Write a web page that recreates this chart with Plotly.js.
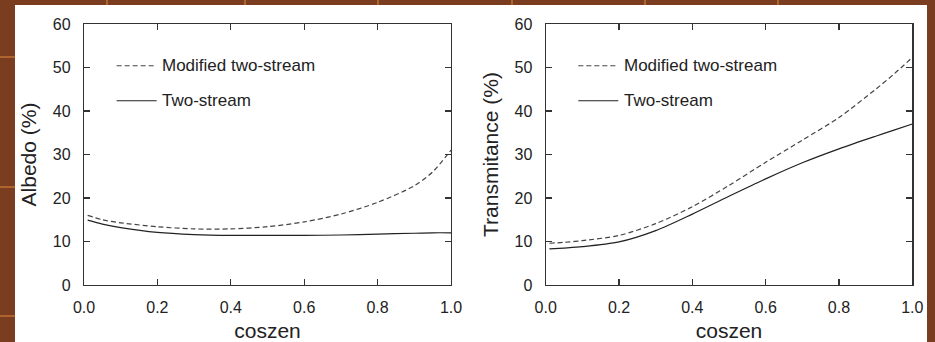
<!DOCTYPE html>
<html>
<head>
<meta charset="utf-8">
<script src="https://cdn.plot.ly/plotly-3.0.1.min.js"></script>
<style>html,body{margin:0;padding:0;background:#7a3d1f;}#chart{width:935px;height:342px;}</style>
</head>
<body>
<div id="chart"></div>
<script>
// coszen samples
const coszen = [0.01, 0.05, 0.1, 0.2, 0.3, 0.4, 0.5, 0.6, 0.7, 0.8, 0.9, 0.95, 1.0];
// Albedo (%)
const albedoModified = [16.0, 15.0, 14.3, 13.4, 12.9, 12.9, 13.4, 14.5, 16.3, 19.0, 22.8, 26.0, 31.0];
const albedoTwoStream = [14.9, 14.0, 13.2, 12.1, 11.6, 11.4, 11.4, 11.4, 11.5, 11.7, 11.9, 12.0, 12.0];
// Transmitance (%)
const transModified = [9.6, 9.8, 10.2, 11.4, 14.1, 18.0, 22.9, 28.2, 33.3, 38.5, 45.0, 48.5, 52.3];
const transTwoStream = [8.3, 8.5, 8.8, 9.9, 12.5, 16.3, 20.4, 24.4, 28.1, 31.3, 34.2, 35.6, 37.0];
const seriesNames = ["Modified two-stream", "Two-stream"];
const yTitles = ["Albedo (%)", "Transmitance (%)"];
const xTitle = "coszen";

const FONT = "Liberation Sans, Arial, Helvetica, sans-serif";
const dashed = {color: "#444", width: 1.2, dash: "5px,3px", shape: "spline", smoothing: 0.8};
const solid = {color: "#222", width: 1.2, shape: "spline", smoothing: 0.8};

const traces = [
  {x: coszen, y: albedoModified, xaxis: "x", yaxis: "y", mode: "lines", line: dashed, name: seriesNames[0]},
  {x: coszen, y: albedoTwoStream, xaxis: "x", yaxis: "y", mode: "lines", line: solid, name: seriesNames[1]},
  {x: coszen, y: transModified, xaxis: "x2", yaxis: "y2", mode: "lines", line: dashed, name: seriesNames[0]},
  {x: coszen, y: transTwoStream, xaxis: "x2", yaxis: "y2", mode: "lines", line: solid, name: seriesNames[1]}
];

function xax(domain, anchor) {
  return {domain: domain, anchor: anchor, range: [0, 1], dtick: 0.2, tick0: 0, tickformat: ".1f",
    ticks: "inside", ticklen: 6, tickcolor: "#333", tickwidth: 1.2,
    showline: true, linecolor: "#333", linewidth: 1.2, mirror: "allticks",
    showgrid: false, zeroline: false, ticklabelstandoff: 8,
    tickfont: {family: FONT, size: 16, color: "#222"},
    title: {text: xTitle, font: {family: FONT, size: 21, color: "#222"}, standoff: 10}};
}
function yax(domain, anchor, title) {
  return {domain: domain, anchor: anchor, range: [0, 60], dtick: 10,
    ticks: "inside", ticklen: 6, tickcolor: "#333", tickwidth: 1.2,
    showline: true, linecolor: "#333", linewidth: 1.2, mirror: "allticks",
    showgrid: false, zeroline: false, ticklabelstandoff: 9,
    tickfont: {family: FONT, size: 16, color: "#222"},
    title: {text: title, font: {family: FONT, size: 21, color: "#222"}, standoff: 10}};
}

const yDom = [57/342, 318/342];
const shapes = [
  {type: "rect", xref: "paper", yref: "paper", x0: 15/935, x1: 927/935, y0: -0.01, y1: 337/342,
   fillcolor: "#ffffff", line: {width: 0}, layer: "below"}
];
// brick mortar lines on the border
[57, 187, 316].forEach(function(yy){
  shapes.push({type: "line", xref: "paper", yref: "paper", x0: 0, x1: 15/935, y0: 1 - yy/342, y1: 1 - yy/342,
    line: {color: "#b0622f", width: 2}, layer: "below"});
});
[107, 245, 378, 512, 645, 778].forEach(function(xx){
  shapes.push({type: "line", xref: "paper", yref: "paper", x0: xx/935, x1: xx/935, y0: 337/342, y1: 1,
    line: {color: "#b0622f", width: 2}, layer: "below"});
});
const annotations = [];
[["x", "y"], ["x2", "y2"]].forEach(function(ax){
  const xr = ax[0] + " domain", yr = ax[1] + " domain";
  const rows = [0.84, 0.706];
  shapes.push({type: "line", xref: xr, yref: yr, x0: 0.089, x1: 0.198, y0: rows[0], y1: rows[0], line: {color: "#444", width: 1.2, dash: "5px,3px"}});
  shapes.push({type: "line", xref: xr, yref: yr, x0: 0.089, x1: 0.198, y0: rows[1], y1: rows[1], line: {color: "#222", width: 1.2}});
  seriesNames.forEach(function(n, i){
    annotations.push({xref: xr, yref: yr, x: 0.208, y: rows[i], xanchor: "left", yanchor: "middle", showarrow: false,
      text: n, font: {family: FONT, size: 17, color: "#222"}});
  });
});

const layout = {
  width: 935, height: 342,
  margin: {l: 0, r: 0, t: 0, b: 0},
  paper_bgcolor: "#7a3d1f", plot_bgcolor: "#ffffff",
  showlegend: false,
  xaxis: xax([84/935, 451/935], "y"),
  yaxis: yax(yDom, "x", yTitles[0]),
  xaxis2: xax([545.7/935, 912.3/935], "y2"),
  yaxis2: yax(yDom, "x2", yTitles[1]),
  shapes: shapes,
  annotations: annotations
};

Plotly.newPlot("chart", traces, layout, {displayModeBar: false, staticPlot: true});
</script>
</body>
</html>
